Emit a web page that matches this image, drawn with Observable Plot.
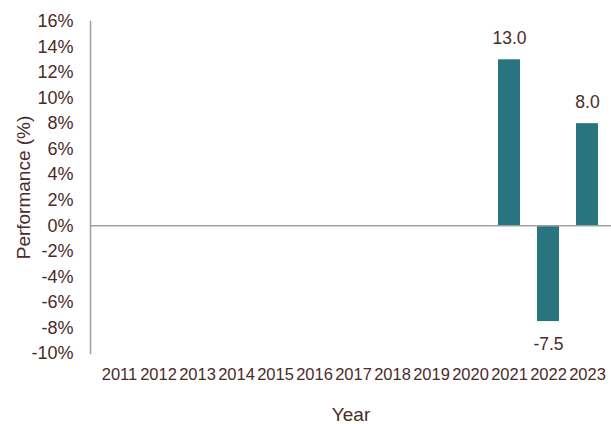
<!DOCTYPE html>
<html>
<head>
<meta charset="utf-8">
<script src="https://cdn.jsdelivr.net/npm/d3@7"></script>
<script src="https://cdn.jsdelivr.net/npm/@observablehq/plot@0.6"></script>
<style>
  html, body { margin: 0; padding: 0; background: #fff; }
  #chart svg { display: block; }
</style>
</head>
<body>
<div id="chart"></div>
<script>
const years = ["2011","2012","2013","2014","2015","2016","2017","2018","2019","2020","2021","2022","2023"];
const barYears = ["2021","2022","2023"];
const performance = [13.0, -7.5, 8.0];
const yTicks = [-10,-8,-6,-4,-2,0,2,4,6,8,10,12,14,16];

const data = barYears.map((y, i) => ({year: y, value: performance[i]}));
const textColor = "#4a2b27";
const barColor = "#287580";

const chart = Plot.plot({
  width: 611,
  height: 424,
  marginLeft: 90,
  marginRight: 0,
  marginTop: 21,
  marginBottom: 71,
  style: {fontFamily: "'Liberation Sans', Arial, sans-serif", fontSize: "17px", color: textColor, background: "#fff"},
  x: {domain: years, paddingInner: 0.44, paddingOuter: 0.22, insetLeft: 5, insetRight: 1},
  y: {domain: [-10, 16]},
  marks: [
    Plot.frame({anchor: "left", stroke: "#a0a0a0", strokeWidth: 1.5}),
    Plot.axisY({ticks: yTicks, tickSize: 0, tickPadding: 17, tickFormat: d => d + "%", fill: textColor, fontSize: 18, label: null}),
    Plot.axisY({ticks: [], tickSize: 0, fill: textColor,
      label: "Performance (%)", labelAnchor: "center", labelArrow: "none", labelOffset: 74, fontSize: 19}),
    Plot.axisX({tickSize: 0, tickPadding: 15, fill: textColor, fontSize: 16.5, label: null}),
    Plot.axisX({ticks: [], tickSize: 0, fill: textColor, label: "Year", labelAnchor: "center", labelArrow: "none", labelOffset: 67, fontSize: 19, dx: 10}),
    Plot.barY(data, {x: "year", y: "value", fill: barColor}),
    Plot.ruleY([0], {stroke: "#a0a0a0", strokeWidth: 1.5}),
    Plot.text(data.filter(d => d.value >= 0), {x: "year", y: "value", text: d => d.value.toFixed(1), dy: -21, fill: textColor, fontSize: 17.5}),
    Plot.text(data.filter(d => d.value < 0), {x: "year", y: "value", text: d => d.value.toFixed(1), dy: 23, fill: textColor, fontSize: 17.5})
  ]
});
document.getElementById("chart").append(chart);
</script>
</body>
</html>
